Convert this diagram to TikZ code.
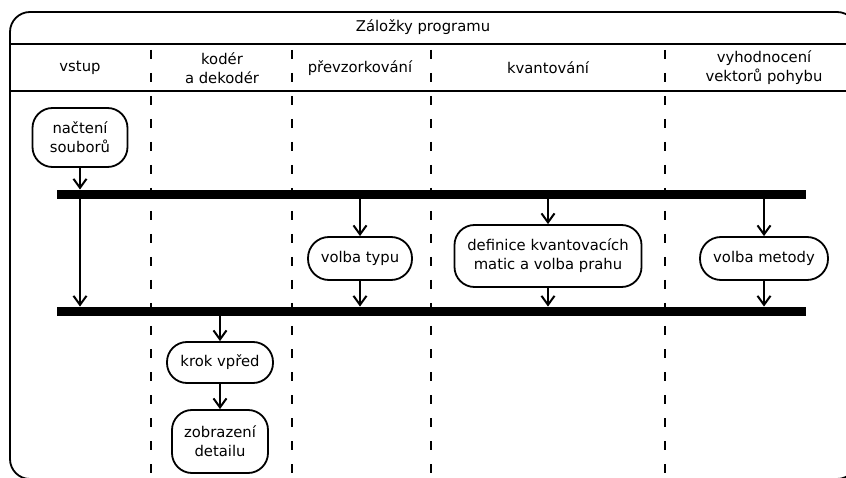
\documentclass[tikz,border=0pt]{standalone}
\usepackage{fontspec}
\setmainfont{DejaVu Sans}
\usetikzlibrary{arrows.meta}
\begin{document}
\begin{tikzpicture}[x=1pt,y=-1pt,
  every node/.style={font=\fontsize{14.8}{19}\selectfont, align=center},
  act/.style={draw, line width=1.8pt, rounded corners=20pt, inner sep=0pt},
  bar/.style={fill=black, inner sep=0pt, minimum width=749pt, minimum height=9.5pt},
  arr/.style={line width=2pt, -{Straight Barb[length=9pt,width=13pt,line width=2pt]}},
  lane/.style={line width=2.5pt, dash pattern=on 9pt off 14pt},
  frameline/.style={line width=1.8pt}]
\useasboundingbox (0,0) rectangle (846,478);
\fill[white] (0,0) rectangle (846,478);
\begin{scope}
\clip (0,0) rectangle (846,478);
\draw[frameline, rounded corners=20pt] (10,12) rectangle (857,479);
\draw[frameline] (10,44) -- (857,44);
\draw[frameline] (10,91) -- (857,91);
\foreach \x in {151,292,431,665}{
  \draw[lane] (\x,50) -- (\x,480);
}
\end{scope}
% header texts
\node (title) at (423,27) {Záložky programu};
\node (h1) at (80,68) {vstup};
\node (h2) at (222,68) {kodér\\a dekodér};
\node (h3) at (360,68) {převzorkování};
\node (h4) at (548,68) {kvantování};
\node (h5) at (764,68) {vyhodnocení\\vektorů pohybu};
% bars
\node[bar] (bar1) at (431.5,194.5) {};
\node[bar] (bar2) at (431.5,311.5) {};
% activities
\node[act, minimum width=95pt, minimum height=59pt] (nac) at (80,137.5) {načtení\\souborů};
\node[act, minimum width=104pt, minimum height=43pt, rounded corners=21pt] (typ) at (360,258.5) {volba typu};
\node[act, minimum width=187pt, minimum height=62pt] (def) at (548,256) {definice kvantovacích\\matic a volba prahu};
\node[act, minimum width=128pt, minimum height=43pt, rounded corners=21pt] (met) at (764,258.5) {volba metody};
\node[act, minimum width=106pt, minimum height=41pt, rounded corners=20pt] (krok) at (220,362.5) {krok vpřed};
\node[act, minimum width=96pt, minimum height=63pt] (zob) at (220,441.5) {zobrazení\\detailu};
% connectors
\draw[arr] (nac.south) -- (nac.south |- bar1.north);
\draw[arr] (bar1.south -| nac.south) -- (bar2.north -| nac.south);
\draw[arr] (bar1.south -| typ.north) -- (typ.north);
\draw[arr] (typ.south) -- (typ.south |- bar2.north);
\draw[arr] (bar1.south -| def.north) -- (def.north);
\draw[arr] (def.south) -- (def.south |- bar2.north);
\draw[arr] (bar1.south -| met.north) -- (met.north);
\draw[arr] (met.south) -- (met.south |- bar2.north);
\draw[arr] (bar2.south -| krok.north) -- (krok.north);
\draw[arr] (krok.south) -- (zob.north);
\end{tikzpicture}
\end{document}
